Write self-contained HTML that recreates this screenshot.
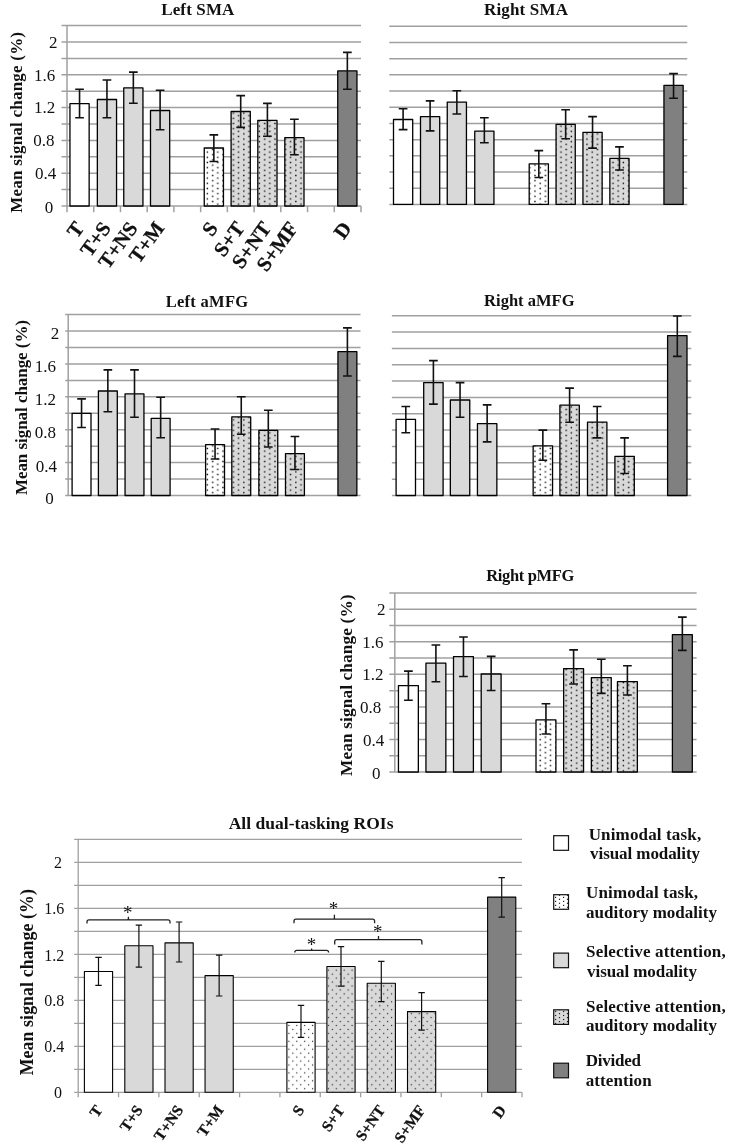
<!DOCTYPE html>
<html><head><meta charset="utf-8"><style>
html,body{margin:0;padding:0;background:#fff;}
svg{display:block;will-change:transform;}
.bt{font-family:"Liberation Serif",serif;font-weight:bold;fill:#111;}
.tk{font-family:"Liberation Serif",serif;fill:#111;}
</style></head><body>
<svg width="744" height="1148" viewBox="0 0 744 1148">
<defs><pattern id="plw" patternUnits="userSpaceOnUse" x="0" y="0" width="8" height="4"><rect width="8" height="4" fill="#fff"/><rect x="3.00" y="0.80" width="1.2" height="1.2" fill="#222"/><rect x="-1.10" y="2.70" width="1.2" height="1.2" fill="#222"/><rect x="6.90" y="2.70" width="1.2" height="1.2" fill="#222"/></pattern><pattern id="plg" patternUnits="userSpaceOnUse" x="0" y="0" width="8" height="4"><rect width="8" height="4" fill="#d9d9d9"/><rect x="3.00" y="-1.10" width="1.2" height="1.2" fill="#222"/><rect x="3.00" y="2.90" width="1.2" height="1.2" fill="#222"/><rect x="-1.10" y="1.00" width="1.2" height="1.2" fill="#222"/><rect x="6.90" y="1.00" width="1.2" height="1.2" fill="#222"/></pattern><pattern id="pw_a" patternUnits="userSpaceOnUse" x="0" y="0" width="10.4" height="5.2"><rect width="10.4" height="5.2" fill="#fff"/><rect x="-1.30" y="0.60" width="1.4" height="1.4" fill="#111"/><rect x="9.10" y="0.60" width="1.4" height="1.4" fill="#111"/><rect x="3.90" y="3.20" width="1.4" height="1.4" fill="#111"/></pattern><pattern id="pg_a" patternUnits="userSpaceOnUse" x="0" y="0" width="10.4" height="5.2"><rect width="10.4" height="5.2" fill="#d9d9d9"/><rect x="-1.30" y="0.60" width="1.4" height="1.4" fill="#111"/><rect x="9.10" y="0.60" width="1.4" height="1.4" fill="#111"/><rect x="3.90" y="3.20" width="1.4" height="1.4" fill="#111"/></pattern><pattern id="pw_b" patternUnits="userSpaceOnUse" x="0" y="0" width="10.4" height="5.2"><rect width="10.4" height="5.2" fill="#fff"/><rect x="-1.30" y="0.60" width="1.4" height="1.4" fill="#111"/><rect x="9.10" y="0.60" width="1.4" height="1.4" fill="#111"/><rect x="3.90" y="3.20" width="1.4" height="1.4" fill="#111"/></pattern><pattern id="pg_b" patternUnits="userSpaceOnUse" x="0" y="0" width="10.4" height="5.2"><rect width="10.4" height="5.2" fill="#d9d9d9"/><rect x="-1.30" y="0.60" width="1.4" height="1.4" fill="#111"/><rect x="9.10" y="0.60" width="1.4" height="1.4" fill="#111"/><rect x="3.90" y="3.20" width="1.4" height="1.4" fill="#111"/></pattern><pattern id="pw_c" patternUnits="userSpaceOnUse" x="0" y="0" width="10.4" height="5.2"><rect width="10.4" height="5.2" fill="#fff"/><rect x="-1.30" y="0.60" width="1.4" height="1.4" fill="#111"/><rect x="9.10" y="0.60" width="1.4" height="1.4" fill="#111"/><rect x="3.90" y="3.20" width="1.4" height="1.4" fill="#111"/></pattern><pattern id="pg_c" patternUnits="userSpaceOnUse" x="0" y="0" width="10.4" height="5.2"><rect width="10.4" height="5.2" fill="#d9d9d9"/><rect x="-1.30" y="0.60" width="1.4" height="1.4" fill="#111"/><rect x="9.10" y="0.60" width="1.4" height="1.4" fill="#111"/><rect x="3.90" y="3.20" width="1.4" height="1.4" fill="#111"/></pattern><pattern id="pw_d" patternUnits="userSpaceOnUse" x="0" y="0" width="10.4" height="5.2"><rect width="10.4" height="5.2" fill="#fff"/><rect x="-1.30" y="0.60" width="1.4" height="1.4" fill="#111"/><rect x="9.10" y="0.60" width="1.4" height="1.4" fill="#111"/><rect x="3.90" y="3.20" width="1.4" height="1.4" fill="#111"/></pattern><pattern id="pg_d" patternUnits="userSpaceOnUse" x="0" y="0" width="10.4" height="5.2"><rect width="10.4" height="5.2" fill="#d9d9d9"/><rect x="-1.30" y="0.60" width="1.4" height="1.4" fill="#111"/><rect x="9.10" y="0.60" width="1.4" height="1.4" fill="#111"/><rect x="3.90" y="3.20" width="1.4" height="1.4" fill="#111"/></pattern><pattern id="pw_e" patternUnits="userSpaceOnUse" x="0" y="0" width="10.4" height="5.2"><rect width="10.4" height="5.2" fill="#fff"/><rect x="-1.30" y="0.60" width="1.4" height="1.4" fill="#111"/><rect x="9.10" y="0.60" width="1.4" height="1.4" fill="#111"/><rect x="3.90" y="3.20" width="1.4" height="1.4" fill="#111"/></pattern><pattern id="pg_e" patternUnits="userSpaceOnUse" x="0" y="0" width="10.4" height="5.2"><rect width="10.4" height="5.2" fill="#d9d9d9"/><rect x="-1.30" y="0.60" width="1.4" height="1.4" fill="#111"/><rect x="9.10" y="0.60" width="1.4" height="1.4" fill="#111"/><rect x="3.90" y="3.20" width="1.4" height="1.4" fill="#111"/></pattern><pattern id="pw_f" patternUnits="userSpaceOnUse" x="0" y="0" width="7.9" height="7.9"><rect width="7.9" height="7.9" fill="#fff"/><rect x="-0.05" y="1.85" width="1.2" height="1.2" fill="#2a2a2a"/><rect x="7.85" y="1.85" width="1.2" height="1.2" fill="#2a2a2a"/><rect x="3.90" y="5.80" width="1.2" height="1.2" fill="#2a2a2a"/></pattern><pattern id="pg_f" patternUnits="userSpaceOnUse" x="0" y="0" width="7.9" height="7.9"><rect width="7.9" height="7.9" fill="#d9d9d9"/><rect x="-0.05" y="1.85" width="1.2" height="1.2" fill="#2a2a2a"/><rect x="7.85" y="1.85" width="1.2" height="1.2" fill="#2a2a2a"/><rect x="3.90" y="5.80" width="1.2" height="1.2" fill="#2a2a2a"/></pattern></defs>
<rect width="744" height="1148" fill="#fff"/>
<line x1="61.50" y1="206.00" x2="361.00" y2="206.00" stroke="#a0a0a0" stroke-width="1.5"/>
<line x1="61.50" y1="189.60" x2="361.00" y2="189.60" stroke="#a0a0a0" stroke-width="1.5"/>
<line x1="61.50" y1="173.20" x2="361.00" y2="173.20" stroke="#a0a0a0" stroke-width="1.5"/>
<line x1="61.50" y1="156.80" x2="361.00" y2="156.80" stroke="#a0a0a0" stroke-width="1.5"/>
<line x1="61.50" y1="140.40" x2="361.00" y2="140.40" stroke="#a0a0a0" stroke-width="1.5"/>
<line x1="61.50" y1="124.00" x2="361.00" y2="124.00" stroke="#a0a0a0" stroke-width="1.5"/>
<line x1="61.50" y1="107.60" x2="361.00" y2="107.60" stroke="#a0a0a0" stroke-width="1.5"/>
<line x1="61.50" y1="91.20" x2="361.00" y2="91.20" stroke="#a0a0a0" stroke-width="1.5"/>
<line x1="61.50" y1="74.80" x2="361.00" y2="74.80" stroke="#a0a0a0" stroke-width="1.5"/>
<line x1="61.50" y1="58.40" x2="361.00" y2="58.40" stroke="#a0a0a0" stroke-width="1.5"/>
<line x1="61.50" y1="42.00" x2="361.00" y2="42.00" stroke="#a0a0a0" stroke-width="1.5"/>
<line x1="61.50" y1="25.60" x2="361.00" y2="25.60" stroke="#a0a0a0" stroke-width="1.5"/>
<line x1="67.00" y1="25.60" x2="67.00" y2="212.20" stroke="#a0a0a0" stroke-width="1.5"/>
<line x1="93.73" y1="206.00" x2="93.73" y2="212.20" stroke="#a0a0a0" stroke-width="1.5"/>
<line x1="120.45" y1="206.00" x2="120.45" y2="212.20" stroke="#a0a0a0" stroke-width="1.5"/>
<line x1="147.18" y1="206.00" x2="147.18" y2="212.20" stroke="#a0a0a0" stroke-width="1.5"/>
<line x1="173.91" y1="206.00" x2="173.91" y2="212.20" stroke="#a0a0a0" stroke-width="1.5"/>
<line x1="200.64" y1="206.00" x2="200.64" y2="212.20" stroke="#a0a0a0" stroke-width="1.5"/>
<line x1="227.36" y1="206.00" x2="227.36" y2="212.20" stroke="#a0a0a0" stroke-width="1.5"/>
<line x1="254.09" y1="206.00" x2="254.09" y2="212.20" stroke="#a0a0a0" stroke-width="1.5"/>
<line x1="280.82" y1="206.00" x2="280.82" y2="212.20" stroke="#a0a0a0" stroke-width="1.5"/>
<line x1="307.55" y1="206.00" x2="307.55" y2="212.20" stroke="#a0a0a0" stroke-width="1.5"/>
<line x1="334.27" y1="206.00" x2="334.27" y2="212.20" stroke="#a0a0a0" stroke-width="1.5"/>
<line x1="361.00" y1="206.00" x2="361.00" y2="212.20" stroke="#a0a0a0" stroke-width="1.5"/>
<rect x="69.95" y="103.70" width="19.20" height="102.30" fill="#ffffff" stroke="#000" stroke-width="1.3" stroke-linejoin="round"/>
<path d="M79.55 89.20V117.70M75.20 89.20H83.90M75.20 117.70H83.90" stroke="#111" stroke-width="1.6" fill="none"/>
<rect x="97.35" y="99.50" width="19.20" height="106.50" fill="#d9d9d9" stroke="#000" stroke-width="1.3" stroke-linejoin="round"/>
<path d="M106.95 80.00V117.70M102.60 80.00H111.30M102.60 117.70H111.30" stroke="#111" stroke-width="1.6" fill="none"/>
<rect x="123.75" y="87.90" width="19.20" height="118.10" fill="#d9d9d9" stroke="#000" stroke-width="1.3" stroke-linejoin="round"/>
<path d="M133.35 72.10V103.20M129.00 72.10H137.70M129.00 103.20H137.70" stroke="#111" stroke-width="1.6" fill="none"/>
<rect x="150.50" y="110.50" width="19.20" height="95.50" fill="#d9d9d9" stroke="#000" stroke-width="1.3" stroke-linejoin="round"/>
<path d="M160.10 90.30V129.70M155.75 90.30H164.45M155.75 129.70H164.45" stroke="#111" stroke-width="1.6" fill="none"/>
<rect x="204.25" y="148.00" width="19.20" height="58.00" fill="url(#pw_a)" stroke="#000" stroke-width="1.3" stroke-linejoin="round"/>
<path d="M213.85 134.90V161.50M209.50 134.90H218.20M209.50 161.50H218.20" stroke="#111" stroke-width="1.6" fill="none"/>
<rect x="231.10" y="111.50" width="19.20" height="94.50" fill="url(#pg_a)" stroke="#000" stroke-width="1.3" stroke-linejoin="round"/>
<path d="M240.70 95.60V127.40M236.35 95.60H245.05M236.35 127.40H245.05" stroke="#111" stroke-width="1.6" fill="none"/>
<rect x="257.80" y="120.40" width="19.20" height="85.60" fill="url(#pg_a)" stroke="#000" stroke-width="1.3" stroke-linejoin="round"/>
<path d="M267.40 103.40V136.20M263.05 103.40H271.75M263.05 136.20H271.75" stroke="#111" stroke-width="1.6" fill="none"/>
<rect x="284.80" y="137.60" width="19.20" height="68.40" fill="url(#pg_a)" stroke="#000" stroke-width="1.3" stroke-linejoin="round"/>
<path d="M294.40 119.30V154.80M290.05 119.30H298.75M290.05 154.80H298.75" stroke="#111" stroke-width="1.6" fill="none"/>
<rect x="337.75" y="70.90" width="19.20" height="135.10" fill="#808080" stroke="#000" stroke-width="1.3" stroke-linejoin="round"/>
<path d="M347.35 52.40V89.20M343.00 52.40H351.70M343.00 89.20H351.70" stroke="#111" stroke-width="1.6" fill="none"/>
<text x="57.60" y="47.80" text-anchor="end" class="tk" style="font-size:17px">2</text>
<text x="55.20" y="80.50" text-anchor="end" class="tk" style="font-size:17px">1.6</text>
<text x="55.20" y="112.80" text-anchor="end" class="tk" style="font-size:17px">1.2</text>
<text x="54.40" y="145.90" text-anchor="end" class="tk" style="font-size:17px">0.8</text>
<text x="56.20" y="178.80" text-anchor="end" class="tk" style="font-size:17px">0.4</text>
<text x="53.30" y="212.50" text-anchor="end" class="tk" style="font-size:17px">0</text>
<text transform="translate(85.06,228.20) rotate(-54)" text-anchor="end" class="bt" style="font-size:20.5px;stroke:#111;stroke-width:0.3px">T</text>
<text transform="translate(111.79,228.20) rotate(-54)" text-anchor="end" class="bt" style="font-size:20.5px;stroke:#111;stroke-width:0.3px">T+S</text>
<text transform="translate(138.52,228.20) rotate(-54)" text-anchor="end" class="bt" style="font-size:20.5px;stroke:#111;stroke-width:0.3px">T+NS</text>
<text transform="translate(165.25,228.20) rotate(-54)" text-anchor="end" class="bt" style="font-size:20.5px;stroke:#111;stroke-width:0.3px">T+M</text>
<text transform="translate(218.70,228.20) rotate(-54)" text-anchor="end" class="bt" style="font-size:20.5px;stroke:#111;stroke-width:0.3px">S</text>
<text transform="translate(245.43,228.20) rotate(-54)" text-anchor="end" class="bt" style="font-size:20.5px;stroke:#111;stroke-width:0.3px">S+T</text>
<text transform="translate(272.15,228.20) rotate(-54)" text-anchor="end" class="bt" style="font-size:20.5px;stroke:#111;stroke-width:0.3px">S+NT</text>
<text transform="translate(298.88,228.20) rotate(-54)" text-anchor="end" class="bt" style="font-size:20.5px;stroke:#111;stroke-width:0.3px">S+MF</text>
<text transform="translate(352.34,228.20) rotate(-54)" text-anchor="end" class="bt" style="font-size:20.5px;stroke:#111;stroke-width:0.3px">D</text>
<line x1="389.30" y1="204.40" x2="687.30" y2="204.40" stroke="#a0a0a0" stroke-width="1.5"/>
<line x1="389.30" y1="188.21" x2="687.30" y2="188.21" stroke="#a0a0a0" stroke-width="1.5"/>
<line x1="389.30" y1="172.02" x2="687.30" y2="172.02" stroke="#a0a0a0" stroke-width="1.5"/>
<line x1="389.30" y1="155.83" x2="687.30" y2="155.83" stroke="#a0a0a0" stroke-width="1.5"/>
<line x1="389.30" y1="139.64" x2="687.30" y2="139.64" stroke="#a0a0a0" stroke-width="1.5"/>
<line x1="389.30" y1="123.45" x2="687.30" y2="123.45" stroke="#a0a0a0" stroke-width="1.5"/>
<line x1="389.30" y1="107.25" x2="687.30" y2="107.25" stroke="#a0a0a0" stroke-width="1.5"/>
<line x1="389.30" y1="91.06" x2="687.30" y2="91.06" stroke="#a0a0a0" stroke-width="1.5"/>
<line x1="389.30" y1="74.87" x2="687.30" y2="74.87" stroke="#a0a0a0" stroke-width="1.5"/>
<line x1="389.30" y1="58.68" x2="687.30" y2="58.68" stroke="#a0a0a0" stroke-width="1.5"/>
<line x1="389.30" y1="42.49" x2="687.30" y2="42.49" stroke="#a0a0a0" stroke-width="1.5"/>
<line x1="389.30" y1="26.30" x2="687.30" y2="26.30" stroke="#a0a0a0" stroke-width="1.5"/>
<rect x="393.50" y="119.50" width="19.20" height="84.90" fill="#ffffff" stroke="#000" stroke-width="1.3" stroke-linejoin="round"/>
<path d="M403.10 108.70V129.60M398.75 108.70H407.45M398.75 129.60H407.45" stroke="#111" stroke-width="1.6" fill="none"/>
<rect x="420.50" y="116.60" width="19.20" height="87.80" fill="#d9d9d9" stroke="#000" stroke-width="1.3" stroke-linejoin="round"/>
<path d="M430.10 100.90V130.90M425.75 100.90H434.45M425.75 130.90H434.45" stroke="#111" stroke-width="1.6" fill="none"/>
<rect x="447.25" y="102.10" width="19.20" height="102.30" fill="#d9d9d9" stroke="#000" stroke-width="1.3" stroke-linejoin="round"/>
<path d="M456.85 90.80V114.00M452.50 90.80H461.20M452.50 114.00H461.20" stroke="#111" stroke-width="1.6" fill="none"/>
<rect x="474.75" y="131.20" width="19.20" height="73.20" fill="#d9d9d9" stroke="#000" stroke-width="1.3" stroke-linejoin="round"/>
<path d="M484.35 117.80V142.80M480.00 117.80H488.70M480.00 142.80H488.70" stroke="#111" stroke-width="1.6" fill="none"/>
<rect x="529.20" y="163.90" width="19.20" height="40.50" fill="url(#pw_b)" stroke="#000" stroke-width="1.3" stroke-linejoin="round"/>
<path d="M538.80 150.60V177.50M534.45 150.60H543.15M534.45 177.50H543.15" stroke="#111" stroke-width="1.6" fill="none"/>
<rect x="556.05" y="124.30" width="19.20" height="80.10" fill="url(#pg_b)" stroke="#000" stroke-width="1.3" stroke-linejoin="round"/>
<path d="M565.65 109.80V138.80M561.30 109.80H570.00M561.30 138.80H570.00" stroke="#111" stroke-width="1.6" fill="none"/>
<rect x="582.95" y="132.30" width="19.20" height="72.10" fill="url(#pg_b)" stroke="#000" stroke-width="1.3" stroke-linejoin="round"/>
<path d="M592.55 116.60V148.10M588.20 116.60H596.90M588.20 148.10H596.90" stroke="#111" stroke-width="1.6" fill="none"/>
<rect x="609.85" y="158.30" width="19.20" height="46.10" fill="url(#pg_b)" stroke="#000" stroke-width="1.3" stroke-linejoin="round"/>
<path d="M619.45 146.90V170.00M615.10 146.90H623.80M615.10 170.00H623.80" stroke="#111" stroke-width="1.6" fill="none"/>
<rect x="663.95" y="85.30" width="19.20" height="119.10" fill="#808080" stroke="#000" stroke-width="1.3" stroke-linejoin="round"/>
<path d="M673.55 73.60V98.30M669.20 73.60H677.90M669.20 98.30H677.90" stroke="#111" stroke-width="1.6" fill="none"/>
<line x1="65.20" y1="495.50" x2="360.50" y2="495.50" stroke="#a0a0a0" stroke-width="1.5"/>
<line x1="65.20" y1="479.05" x2="360.50" y2="479.05" stroke="#a0a0a0" stroke-width="1.5"/>
<line x1="65.20" y1="462.61" x2="360.50" y2="462.61" stroke="#a0a0a0" stroke-width="1.5"/>
<line x1="65.20" y1="446.16" x2="360.50" y2="446.16" stroke="#a0a0a0" stroke-width="1.5"/>
<line x1="65.20" y1="429.72" x2="360.50" y2="429.72" stroke="#a0a0a0" stroke-width="1.5"/>
<line x1="65.20" y1="413.27" x2="360.50" y2="413.27" stroke="#a0a0a0" stroke-width="1.5"/>
<line x1="65.20" y1="396.83" x2="360.50" y2="396.83" stroke="#a0a0a0" stroke-width="1.5"/>
<line x1="65.20" y1="380.38" x2="360.50" y2="380.38" stroke="#a0a0a0" stroke-width="1.5"/>
<line x1="65.20" y1="363.94" x2="360.50" y2="363.94" stroke="#a0a0a0" stroke-width="1.5"/>
<line x1="65.20" y1="347.49" x2="360.50" y2="347.49" stroke="#a0a0a0" stroke-width="1.5"/>
<line x1="65.20" y1="331.05" x2="360.50" y2="331.05" stroke="#a0a0a0" stroke-width="1.5"/>
<line x1="65.20" y1="314.60" x2="360.50" y2="314.60" stroke="#a0a0a0" stroke-width="1.5"/>
<line x1="68.20" y1="314.60" x2="68.20" y2="495.50" stroke="#a0a0a0" stroke-width="1.5"/>
<rect x="72.10" y="413.30" width="18.90" height="82.20" fill="#ffffff" stroke="#000" stroke-width="1.3" stroke-linejoin="round"/>
<path d="M81.55 398.90V427.50M77.20 398.90H85.90M77.20 427.50H85.90" stroke="#111" stroke-width="1.6" fill="none"/>
<rect x="98.40" y="391.00" width="18.90" height="104.50" fill="#d9d9d9" stroke="#000" stroke-width="1.3" stroke-linejoin="round"/>
<path d="M107.85 369.90V411.80M103.50 369.90H112.20M103.50 411.80H112.20" stroke="#111" stroke-width="1.6" fill="none"/>
<rect x="125.05" y="393.80" width="18.90" height="101.70" fill="#d9d9d9" stroke="#000" stroke-width="1.3" stroke-linejoin="round"/>
<path d="M134.50 369.90V417.20M130.15 369.90H138.85M130.15 417.20H138.85" stroke="#111" stroke-width="1.6" fill="none"/>
<rect x="151.20" y="418.30" width="18.90" height="77.20" fill="#d9d9d9" stroke="#000" stroke-width="1.3" stroke-linejoin="round"/>
<path d="M160.65 397.20V437.80M156.30 397.20H165.00M156.30 437.80H165.00" stroke="#111" stroke-width="1.6" fill="none"/>
<rect x="205.60" y="444.60" width="18.90" height="50.90" fill="url(#pw_c)" stroke="#000" stroke-width="1.3" stroke-linejoin="round"/>
<path d="M215.05 429.00V459.00M210.70 429.00H219.40M210.70 459.00H219.40" stroke="#111" stroke-width="1.6" fill="none"/>
<rect x="231.80" y="416.90" width="18.90" height="78.60" fill="url(#pg_c)" stroke="#000" stroke-width="1.3" stroke-linejoin="round"/>
<path d="M241.25 396.80V434.30M236.90 396.80H245.60M236.90 434.30H245.60" stroke="#111" stroke-width="1.6" fill="none"/>
<rect x="258.85" y="430.40" width="18.90" height="65.10" fill="url(#pg_c)" stroke="#000" stroke-width="1.3" stroke-linejoin="round"/>
<path d="M268.30 410.30V447.00M263.95 410.30H272.65M263.95 447.00H272.65" stroke="#111" stroke-width="1.6" fill="none"/>
<rect x="285.50" y="453.60" width="18.90" height="41.90" fill="url(#pg_c)" stroke="#000" stroke-width="1.3" stroke-linejoin="round"/>
<path d="M294.95 436.50V469.50M290.60 436.50H299.30M290.60 469.50H299.30" stroke="#111" stroke-width="1.6" fill="none"/>
<rect x="337.95" y="351.60" width="18.90" height="143.90" fill="#808080" stroke="#000" stroke-width="1.3" stroke-linejoin="round"/>
<path d="M347.40 327.90V376.00M343.05 327.90H351.75M343.05 376.00H351.75" stroke="#111" stroke-width="1.6" fill="none"/>
<text x="59.30" y="338.80" text-anchor="end" class="tk" style="font-size:17px">2</text>
<text x="56.10" y="371.80" text-anchor="end" class="tk" style="font-size:17px">1.6</text>
<text x="56.10" y="404.50" text-anchor="end" class="tk" style="font-size:17px">1.2</text>
<text x="56.10" y="438.00" text-anchor="end" class="tk" style="font-size:17px">0.8</text>
<text x="56.90" y="471.50" text-anchor="end" class="tk" style="font-size:17px">0.4</text>
<text x="53.70" y="504.10" text-anchor="end" class="tk" style="font-size:17px">0</text>
<line x1="391.90" y1="495.50" x2="691.30" y2="495.50" stroke="#a0a0a0" stroke-width="1.5"/>
<line x1="391.90" y1="479.15" x2="691.30" y2="479.15" stroke="#a0a0a0" stroke-width="1.5"/>
<line x1="391.90" y1="462.81" x2="691.30" y2="462.81" stroke="#a0a0a0" stroke-width="1.5"/>
<line x1="391.90" y1="446.46" x2="691.30" y2="446.46" stroke="#a0a0a0" stroke-width="1.5"/>
<line x1="391.90" y1="430.12" x2="691.30" y2="430.12" stroke="#a0a0a0" stroke-width="1.5"/>
<line x1="391.90" y1="413.77" x2="691.30" y2="413.77" stroke="#a0a0a0" stroke-width="1.5"/>
<line x1="391.90" y1="397.43" x2="691.30" y2="397.43" stroke="#a0a0a0" stroke-width="1.5"/>
<line x1="391.90" y1="381.08" x2="691.30" y2="381.08" stroke="#a0a0a0" stroke-width="1.5"/>
<line x1="391.90" y1="364.74" x2="691.30" y2="364.74" stroke="#a0a0a0" stroke-width="1.5"/>
<line x1="391.90" y1="348.39" x2="691.30" y2="348.39" stroke="#a0a0a0" stroke-width="1.5"/>
<line x1="391.90" y1="332.05" x2="691.30" y2="332.05" stroke="#a0a0a0" stroke-width="1.5"/>
<line x1="391.90" y1="315.70" x2="691.30" y2="315.70" stroke="#a0a0a0" stroke-width="1.5"/>
<rect x="396.10" y="419.40" width="19.40" height="76.10" fill="#ffffff" stroke="#000" stroke-width="1.3" stroke-linejoin="round"/>
<path d="M405.80 406.50V432.70M401.45 406.50H410.15M401.45 432.70H410.15" stroke="#111" stroke-width="1.6" fill="none"/>
<rect x="423.70" y="382.60" width="19.40" height="112.90" fill="#d9d9d9" stroke="#000" stroke-width="1.3" stroke-linejoin="round"/>
<path d="M433.40 360.60V404.10M429.05 360.60H437.75M429.05 404.10H437.75" stroke="#111" stroke-width="1.6" fill="none"/>
<rect x="450.35" y="400.00" width="19.40" height="95.50" fill="#d9d9d9" stroke="#000" stroke-width="1.3" stroke-linejoin="round"/>
<path d="M460.05 382.60V417.20M455.70 382.60H464.40M455.70 417.20H464.40" stroke="#111" stroke-width="1.6" fill="none"/>
<rect x="477.45" y="423.70" width="19.40" height="71.80" fill="#d9d9d9" stroke="#000" stroke-width="1.3" stroke-linejoin="round"/>
<path d="M487.15 404.90V441.90M482.80 404.90H491.50M482.80 441.90H491.50" stroke="#111" stroke-width="1.6" fill="none"/>
<rect x="533.15" y="445.80" width="19.40" height="49.70" fill="url(#pw_d)" stroke="#000" stroke-width="1.3" stroke-linejoin="round"/>
<path d="M542.85 430.10V460.30M538.50 430.10H547.20M538.50 460.30H547.20" stroke="#111" stroke-width="1.6" fill="none"/>
<rect x="559.90" y="405.20" width="19.40" height="90.30" fill="url(#pg_d)" stroke="#000" stroke-width="1.3" stroke-linejoin="round"/>
<path d="M569.60 388.10V422.20M565.25 388.10H573.95M565.25 422.20H573.95" stroke="#111" stroke-width="1.6" fill="none"/>
<rect x="587.50" y="422.20" width="19.40" height="73.30" fill="url(#pg_d)" stroke="#000" stroke-width="1.3" stroke-linejoin="round"/>
<path d="M597.20 406.50V437.90M592.85 406.50H601.55M592.85 437.90H601.55" stroke="#111" stroke-width="1.6" fill="none"/>
<rect x="614.90" y="456.30" width="19.40" height="39.20" fill="url(#pg_d)" stroke="#000" stroke-width="1.3" stroke-linejoin="round"/>
<path d="M624.60 437.90V473.50M620.25 437.90H628.95M620.25 473.50H628.95" stroke="#111" stroke-width="1.6" fill="none"/>
<rect x="667.60" y="335.60" width="19.40" height="159.90" fill="#808080" stroke="#000" stroke-width="1.3" stroke-linejoin="round"/>
<path d="M677.30 316.00V356.40M672.95 316.00H681.65M672.95 356.40H681.65" stroke="#111" stroke-width="1.6" fill="none"/>
<line x1="389.30" y1="772.00" x2="696.60" y2="772.00" stroke="#a0a0a0" stroke-width="1.5"/>
<line x1="389.30" y1="755.73" x2="696.60" y2="755.73" stroke="#a0a0a0" stroke-width="1.5"/>
<line x1="389.30" y1="739.45" x2="696.60" y2="739.45" stroke="#a0a0a0" stroke-width="1.5"/>
<line x1="389.30" y1="723.18" x2="696.60" y2="723.18" stroke="#a0a0a0" stroke-width="1.5"/>
<line x1="389.30" y1="706.91" x2="696.60" y2="706.91" stroke="#a0a0a0" stroke-width="1.5"/>
<line x1="389.30" y1="690.64" x2="696.60" y2="690.64" stroke="#a0a0a0" stroke-width="1.5"/>
<line x1="389.30" y1="674.36" x2="696.60" y2="674.36" stroke="#a0a0a0" stroke-width="1.5"/>
<line x1="389.30" y1="658.09" x2="696.60" y2="658.09" stroke="#a0a0a0" stroke-width="1.5"/>
<line x1="389.30" y1="641.82" x2="696.60" y2="641.82" stroke="#a0a0a0" stroke-width="1.5"/>
<line x1="389.30" y1="625.55" x2="696.60" y2="625.55" stroke="#a0a0a0" stroke-width="1.5"/>
<line x1="389.30" y1="609.27" x2="696.60" y2="609.27" stroke="#a0a0a0" stroke-width="1.5"/>
<line x1="389.30" y1="593.00" x2="696.60" y2="593.00" stroke="#a0a0a0" stroke-width="1.5"/>
<line x1="394.80" y1="593.00" x2="394.80" y2="772.00" stroke="#a0a0a0" stroke-width="1.5"/>
<rect x="398.45" y="685.70" width="19.90" height="86.30" fill="#ffffff" stroke="#000" stroke-width="1.3" stroke-linejoin="round"/>
<path d="M408.40 671.10V700.20M404.05 671.10H412.75M404.05 700.20H412.75" stroke="#111" stroke-width="1.6" fill="none"/>
<rect x="425.95" y="663.20" width="19.90" height="108.80" fill="#d9d9d9" stroke="#000" stroke-width="1.3" stroke-linejoin="round"/>
<path d="M435.90 645.00V681.80M431.55 645.00H440.25M431.55 681.80H440.25" stroke="#111" stroke-width="1.6" fill="none"/>
<rect x="453.50" y="656.60" width="19.90" height="115.40" fill="#d9d9d9" stroke="#000" stroke-width="1.3" stroke-linejoin="round"/>
<path d="M463.45 637.00V676.50M459.10 637.00H467.80M459.10 676.50H467.80" stroke="#111" stroke-width="1.6" fill="none"/>
<rect x="481.20" y="674.00" width="19.90" height="98.00" fill="#d9d9d9" stroke="#000" stroke-width="1.3" stroke-linejoin="round"/>
<path d="M491.15 656.40V690.50M486.80 656.40H495.50M486.80 690.50H495.50" stroke="#111" stroke-width="1.6" fill="none"/>
<rect x="536.00" y="719.80" width="19.90" height="52.20" fill="url(#pw_e)" stroke="#000" stroke-width="1.3" stroke-linejoin="round"/>
<path d="M545.95 703.70V734.00M541.60 703.70H550.30M541.60 734.00H550.30" stroke="#111" stroke-width="1.6" fill="none"/>
<rect x="563.65" y="668.70" width="19.90" height="103.30" fill="url(#pg_e)" stroke="#000" stroke-width="1.3" stroke-linejoin="round"/>
<path d="M573.60 649.90V684.00M569.25 649.90H577.95M569.25 684.00H577.95" stroke="#111" stroke-width="1.6" fill="none"/>
<rect x="591.35" y="677.60" width="19.90" height="94.40" fill="url(#pg_e)" stroke="#000" stroke-width="1.3" stroke-linejoin="round"/>
<path d="M601.30 659.30V693.40M596.95 659.30H605.65M596.95 693.40H605.65" stroke="#111" stroke-width="1.6" fill="none"/>
<rect x="617.45" y="681.60" width="19.90" height="90.40" fill="url(#pg_e)" stroke="#000" stroke-width="1.3" stroke-linejoin="round"/>
<path d="M627.40 665.80V695.00M623.05 665.80H631.75M623.05 695.00H631.75" stroke="#111" stroke-width="1.6" fill="none"/>
<rect x="672.40" y="634.60" width="19.90" height="137.40" fill="#808080" stroke="#000" stroke-width="1.3" stroke-linejoin="round"/>
<path d="M682.35 617.10V650.40M678.00 617.10H686.70M678.00 650.40H686.70" stroke="#111" stroke-width="1.6" fill="none"/>
<text x="385.40" y="614.50" text-anchor="end" class="tk" style="font-size:17px">2</text>
<text x="383.50" y="648.20" text-anchor="end" class="tk" style="font-size:17px">1.6</text>
<text x="383.50" y="680.40" text-anchor="end" class="tk" style="font-size:17px">1.2</text>
<text x="381.20" y="713.30" text-anchor="end" class="tk" style="font-size:17px">0.8</text>
<text x="384.30" y="745.50" text-anchor="end" class="tk" style="font-size:17px">0.4</text>
<text x="380.40" y="779.20" text-anchor="end" class="tk" style="font-size:17px">0</text>
<line x1="74.20" y1="1092.30" x2="522.00" y2="1092.30" stroke="#a0a0a0" stroke-width="1.3"/>
<line x1="74.20" y1="1069.31" x2="522.00" y2="1069.31" stroke="#a0a0a0" stroke-width="1.3"/>
<line x1="74.20" y1="1046.32" x2="522.00" y2="1046.32" stroke="#a0a0a0" stroke-width="1.3"/>
<line x1="74.20" y1="1023.33" x2="522.00" y2="1023.33" stroke="#a0a0a0" stroke-width="1.3"/>
<line x1="74.20" y1="1000.34" x2="522.00" y2="1000.34" stroke="#a0a0a0" stroke-width="1.3"/>
<line x1="74.20" y1="977.35" x2="522.00" y2="977.35" stroke="#a0a0a0" stroke-width="1.3"/>
<line x1="74.20" y1="954.35" x2="522.00" y2="954.35" stroke="#a0a0a0" stroke-width="1.3"/>
<line x1="74.20" y1="931.36" x2="522.00" y2="931.36" stroke="#a0a0a0" stroke-width="1.3"/>
<line x1="74.20" y1="908.37" x2="522.00" y2="908.37" stroke="#a0a0a0" stroke-width="1.3"/>
<line x1="74.20" y1="885.38" x2="522.00" y2="885.38" stroke="#a0a0a0" stroke-width="1.3"/>
<line x1="74.20" y1="862.39" x2="522.00" y2="862.39" stroke="#a0a0a0" stroke-width="1.3"/>
<line x1="74.20" y1="839.40" x2="522.00" y2="839.40" stroke="#a0a0a0" stroke-width="1.3"/>
<line x1="78.20" y1="839.40" x2="78.20" y2="1097.30" stroke="#a0a0a0" stroke-width="1.3"/>
<line x1="118.55" y1="1092.30" x2="118.55" y2="1097.30" stroke="#a0a0a0" stroke-width="1.3"/>
<line x1="158.89" y1="1092.30" x2="158.89" y2="1097.30" stroke="#a0a0a0" stroke-width="1.3"/>
<line x1="199.24" y1="1092.30" x2="199.24" y2="1097.30" stroke="#a0a0a0" stroke-width="1.3"/>
<line x1="239.58" y1="1092.30" x2="239.58" y2="1097.30" stroke="#a0a0a0" stroke-width="1.3"/>
<line x1="279.93" y1="1092.30" x2="279.93" y2="1097.30" stroke="#a0a0a0" stroke-width="1.3"/>
<line x1="320.27" y1="1092.30" x2="320.27" y2="1097.30" stroke="#a0a0a0" stroke-width="1.3"/>
<line x1="360.62" y1="1092.30" x2="360.62" y2="1097.30" stroke="#a0a0a0" stroke-width="1.3"/>
<line x1="400.96" y1="1092.30" x2="400.96" y2="1097.30" stroke="#a0a0a0" stroke-width="1.3"/>
<line x1="441.31" y1="1092.30" x2="441.31" y2="1097.30" stroke="#a0a0a0" stroke-width="1.3"/>
<line x1="481.65" y1="1092.30" x2="481.65" y2="1097.30" stroke="#a0a0a0" stroke-width="1.3"/>
<line x1="522.00" y1="1092.30" x2="522.00" y2="1097.30" stroke="#a0a0a0" stroke-width="1.3"/>
<rect x="84.40" y="971.50" width="28.20" height="120.80" fill="#ffffff" stroke="#000" stroke-width="1.1" stroke-linejoin="round"/>
<path d="M98.50 957.40V985.30M95.30 957.40H101.70M95.30 985.30H101.70" stroke="#111" stroke-width="1.2" fill="none"/>
<rect x="124.80" y="945.70" width="28.20" height="146.60" fill="#d9d9d9" stroke="#000" stroke-width="1.1" stroke-linejoin="round"/>
<path d="M138.90 925.10V967.10M135.70 925.10H142.10M135.70 967.10H142.10" stroke="#111" stroke-width="1.2" fill="none"/>
<rect x="165.00" y="942.90" width="28.20" height="149.40" fill="#d9d9d9" stroke="#000" stroke-width="1.1" stroke-linejoin="round"/>
<path d="M179.10 922.00V962.00M175.90 922.00H182.30M175.90 962.00H182.30" stroke="#111" stroke-width="1.2" fill="none"/>
<rect x="205.05" y="975.60" width="28.20" height="116.70" fill="#d9d9d9" stroke="#000" stroke-width="1.1" stroke-linejoin="round"/>
<path d="M219.15 955.10V996.00M215.95 955.10H222.35M215.95 996.00H222.35" stroke="#111" stroke-width="1.2" fill="none"/>
<rect x="286.90" y="1022.40" width="28.20" height="69.90" fill="url(#pw_f)" stroke="#000" stroke-width="1.1" stroke-linejoin="round"/>
<path d="M301.00 1005.40V1037.40M297.80 1005.40H304.20M297.80 1037.40H304.20" stroke="#111" stroke-width="1.2" fill="none"/>
<rect x="326.90" y="966.50" width="28.20" height="125.80" fill="url(#pg_f)" stroke="#000" stroke-width="1.1" stroke-linejoin="round"/>
<path d="M341.00 946.70V986.20M337.80 946.70H344.20M337.80 986.20H344.20" stroke="#111" stroke-width="1.2" fill="none"/>
<rect x="367.20" y="983.20" width="28.20" height="109.10" fill="url(#pg_f)" stroke="#000" stroke-width="1.1" stroke-linejoin="round"/>
<path d="M381.30 961.30V1001.70M378.10 961.30H384.50M378.10 1001.70H384.50" stroke="#111" stroke-width="1.2" fill="none"/>
<rect x="407.50" y="1011.60" width="28.20" height="80.70" fill="url(#pg_f)" stroke="#000" stroke-width="1.1" stroke-linejoin="round"/>
<path d="M421.60 992.70V1030.10M418.40 992.70H424.80M418.40 1030.10H424.80" stroke="#111" stroke-width="1.2" fill="none"/>
<rect x="487.60" y="897.10" width="28.20" height="195.20" fill="#808080" stroke="#000" stroke-width="1.1" stroke-linejoin="round"/>
<path d="M501.70 877.70V917.10M498.50 877.70H504.90M498.50 917.10H504.90" stroke="#111" stroke-width="1.2" fill="none"/>
<text x="62.00" y="868.18" text-anchor="end" class="tk" style="font-size:16px">2</text>
<text x="64.20" y="913.88" text-anchor="end" class="tk" style="font-size:16px">1.6</text>
<text x="64.20" y="960.58" text-anchor="end" class="tk" style="font-size:16px">1.2</text>
<text x="64.20" y="1006.18" text-anchor="end" class="tk" style="font-size:16px">0.8</text>
<text x="64.20" y="1051.88" text-anchor="end" class="tk" style="font-size:16px">0.4</text>
<text x="62.00" y="1097.58" text-anchor="end" class="tk" style="font-size:16px">0</text>
<text transform="translate(103.17,1110.00) rotate(-55)" text-anchor="end" class="bt" style="font-size:15.5px;stroke:#111;stroke-width:0.3px">T</text>
<text transform="translate(143.52,1110.00) rotate(-55)" text-anchor="end" class="bt" style="font-size:15.5px;stroke:#111;stroke-width:0.3px">T+S</text>
<text transform="translate(183.86,1110.00) rotate(-55)" text-anchor="end" class="bt" style="font-size:15.5px;stroke:#111;stroke-width:0.3px">T+NS</text>
<text transform="translate(224.21,1110.00) rotate(-55)" text-anchor="end" class="bt" style="font-size:15.5px;stroke:#111;stroke-width:0.3px">T+M</text>
<text transform="translate(304.90,1110.00) rotate(-55)" text-anchor="end" class="bt" style="font-size:15.5px;stroke:#111;stroke-width:0.3px">S</text>
<text transform="translate(345.25,1110.00) rotate(-55)" text-anchor="end" class="bt" style="font-size:15.5px;stroke:#111;stroke-width:0.3px">S+T</text>
<text transform="translate(385.59,1110.00) rotate(-55)" text-anchor="end" class="bt" style="font-size:15.5px;stroke:#111;stroke-width:0.3px">S+NT</text>
<text transform="translate(425.94,1110.00) rotate(-55)" text-anchor="end" class="bt" style="font-size:15.5px;stroke:#111;stroke-width:0.3px">S+MF</text>
<text transform="translate(506.63,1110.00) rotate(-55)" text-anchor="end" class="bt" style="font-size:15.5px;stroke:#111;stroke-width:0.3px">D</text>
<path d="M87 923.5V921.8Q87 919.8 89 919.8H127.2Q128.4 919.8 128.4 918.5999999999999V916.8M128.4 918.5999999999999Q128.4 919.8 129.6 919.8H168Q170 919.8 170 921.8V923.5" stroke="#222" stroke-width="1.3" fill="none"/>
<text x="127.7" y="919.20" text-anchor="middle" class="tk" style="font-size:19px">*</text>
<path d="M294.8 952.6V952.4Q294.8 950.4 296.8 950.4H310.40000000000003Q311.6 950.4 311.6 949.1999999999999V948.4M311.6 949.1999999999999Q311.6 950.4 312.8 950.4H326.6Q328.6 950.4 328.6 952.4V952.6" stroke="#222" stroke-width="1.3" fill="none"/>
<text x="311.6" y="950.90" text-anchor="middle" class="tk" style="font-size:19px">*</text>
<path d="M294 923.2V921.2Q294 919.2 296 919.2H333.2Q334.4 919.2 334.4 918.0V914.8M334.4 918.0Q334.4 919.2 335.59999999999997 919.2H372.6Q374.6 919.2 374.6 921.2V923.2" stroke="#222" stroke-width="1.3" fill="none"/>
<text x="333.5" y="914.70" text-anchor="middle" class="tk" style="font-size:19px">*</text>
<path d="M334.7 944.4V941.7Q334.7 939.7 336.7 939.7H377.3Q378.5 939.7 378.5 938.5V935.9M378.5 938.5Q378.5 939.7 379.7 939.7H419.9Q421.9 939.7 421.9 941.7V944.4" stroke="#222" stroke-width="1.3" fill="none"/>
<text x="377.8" y="938.20" text-anchor="middle" class="tk" style="font-size:19px">*</text>
<rect x="553.7" y="835.7" width="14.8" height="14.6" fill="#fff" stroke="#111" stroke-width="1.2"/>
<rect x="553.7" y="894.7" width="14.8" height="14.6" fill="url(#plw)" stroke="#111" stroke-width="1.2"/>
<rect x="553.7" y="953.1" width="14.8" height="14.6" fill="#d9d9d9" stroke="#111" stroke-width="1.2"/>
<rect x="553.7" y="1009.8" width="14.8" height="14.6" fill="url(#plg)" stroke="#111" stroke-width="1.2"/>
<rect x="553.7" y="1063.2" width="14.8" height="14.6" fill="#808080" stroke="#111" stroke-width="1.2"/>
<text x="161.20" y="14.70" class="bt" style="font-size:17px;white-space:pre" textLength="73.13" lengthAdjust="spacing">Left SMA</text>
<text x="484.00" y="14.70" class="bt" style="font-size:17px;white-space:pre" textLength="83.96" lengthAdjust="spacing">Right SMA</text>
<text x="165.70" y="306.50" class="bt" style="font-size:16.5px;white-space:pre" textLength="82.39" lengthAdjust="spacing">Left aMFG</text>
<text x="484.10" y="306.10" class="bt" style="font-size:16.5px;white-space:pre" textLength="90.40" lengthAdjust="spacing">Right aMFG</text>
<text x="486.30" y="581.40" class="bt" style="font-size:16.5px;white-space:pre" textLength="88.12" lengthAdjust="spacing">Right pMFG</text>
<text x="228.70" y="829.20" class="bt" style="font-size:17.5px;white-space:pre" textLength="164.76" lengthAdjust="spacing">All dual-tasking ROIs</text>
<text transform="translate(21.90,212.70) rotate(-90)" class="bt" style="font-size:17px;white-space:pre" textLength="180.74" lengthAdjust="spacing">Mean signal change (%)</text>
<text transform="translate(26.60,495.10) rotate(-90)" class="bt" style="font-size:17px;white-space:pre" textLength="175.14" lengthAdjust="spacing">Mean signal change (%)</text>
<text transform="translate(351.60,776.00) rotate(-90)" class="bt" style="font-size:17.3px;white-space:pre" textLength="181.56" lengthAdjust="spacing">Mean signal change (%)</text>
<text transform="translate(33.40,1075.30) rotate(-90)" class="bt" style="font-size:17.8px;white-space:pre" textLength="186.23" lengthAdjust="spacing">Mean signal change (%)</text>
<text x="588.70" y="839.80" class="bt" style="font-size:17px;white-space:pre" textLength="112.43" lengthAdjust="spacing">Unimodal task,</text>
<text x="590.10" y="859.30" class="bt" style="font-size:17px;white-space:pre" textLength="109.90" lengthAdjust="spacing">visual modality</text>
<text x="586.10" y="898.20" class="bt" style="font-size:17px;white-space:pre" textLength="111.93" lengthAdjust="spacing">Unimodal task,</text>
<text x="586.10" y="917.80" class="bt" style="font-size:17px;white-space:pre" textLength="130.81" lengthAdjust="spacing">auditory modality</text>
<text x="586.10" y="956.50" class="bt" style="font-size:17px;white-space:pre" textLength="139.61" lengthAdjust="spacing">Selective attention,</text>
<text x="587.10" y="976.70" class="bt" style="font-size:17px;white-space:pre" textLength="109.80" lengthAdjust="spacing">visual modality</text>
<text x="586.10" y="1011.60" class="bt" style="font-size:17px;white-space:pre" textLength="139.61" lengthAdjust="spacing">Selective attention,</text>
<text x="586.10" y="1030.70" class="bt" style="font-size:17px;white-space:pre" textLength="130.81" lengthAdjust="spacing">auditory modality</text>
<text x="585.70" y="1066.20" class="bt" style="font-size:17px;white-space:pre" textLength="55.39" lengthAdjust="spacing">Divided</text>
<text x="585.70" y="1086.00" class="bt" style="font-size:17px;white-space:pre" textLength="65.97" lengthAdjust="spacing">attention</text>
</svg></body></html>
